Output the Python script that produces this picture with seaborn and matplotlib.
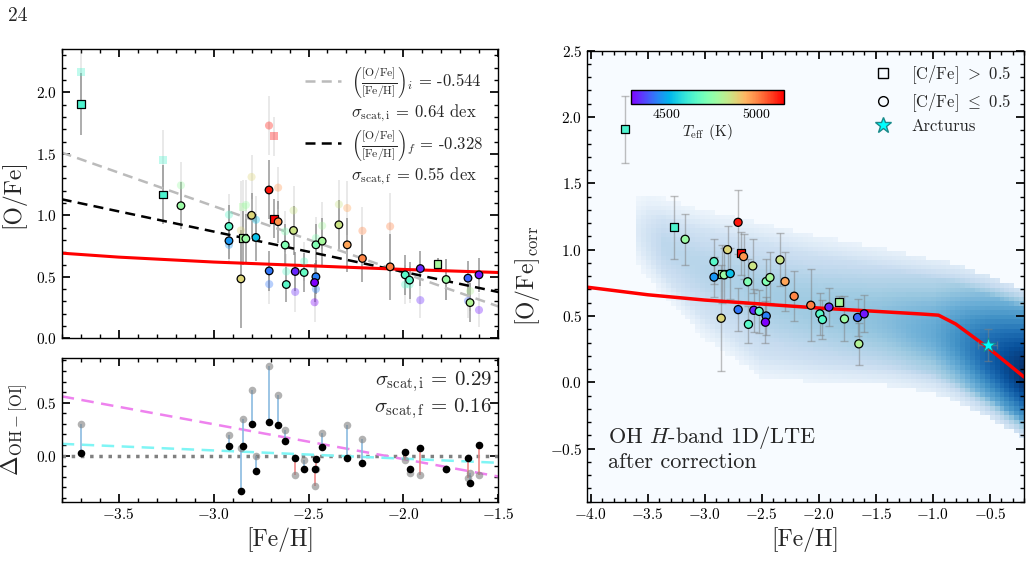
import numpy as np
import pandas as pd
import seaborn as sns
import matplotlib.pyplot as plt
from matplotlib.lines import Line2D
from matplotlib.ticker import MultipleLocator
from matplotlib.colors import Normalize
from matplotlib.cm import ScalarMappable

# --- stars: [Fe/H], [O/Fe] before (i) and after (f) correction, error, Teff, carbon flag
feh = [-3.70, -3.268, -3.172, -2.919, -2.919, -2.845, -2.830, -2.856, -2.800, -2.777,
       -2.708, -2.682, -2.660, -2.707, -2.623, -2.617, -2.579, -2.570, -2.523, -2.461,
       -2.428, -2.461, -2.468, -2.340, -2.296, -2.216, -2.070, -1.991, -1.968, -1.911,
       -1.820, -1.775, -1.660, -1.649, -1.602]
ofe_i = [2.168, 1.451, 1.244, 1.005, 0.760, 1.065, 1.084, 0.877, 1.312, 0.964,
         1.730, 1.643, 1.225, 0.440, 0.869, 0.543, 1.040, 0.377, 0.625, 0.815,
         0.915, 0.400, 0.293, 1.089, 1.059, 0.874, 0.910, 0.437, 0.437, 0.310,
         0.603, 0.478, 0.304, 0.385, 0.230]
ofe_f = [1.907, 1.168, 1.078, 0.910, 0.793, 0.815, 0.810, 0.483, 1.000, 0.820,
         1.206, 0.972, 0.948, 0.548, 0.758, 0.437, 0.877, 0.543, 0.535, 0.760,
         0.790, 0.500, 0.453, 0.923, 0.760, 0.649, 0.581, 0.516, 0.473, 0.567,
         0.603, 0.478, 0.489, 0.290, 0.516]
ofe_err = [0.25, 0.24, 0.19, 0.17, 0.15, 0.22, 0.20, 0.40, 0.18, 0.19,
           0.24, 0.16, 0.17, 0.16, 0.17, 0.14, 0.20, 0.16, 0.16, 0.17,
           0.19, 0.14, 0.16, 0.20, 0.22, 0.19, 0.27, 0.16, 0.15, 0.145,
           0.05, 0.17, 0.14, 0.16, 0.14]
teff = [4640, 4640, 4770, 4660, 4470, 4790, 4770, 4880, 4880, 4530,
        5125, 5150, 4980, 4430, 4725, 4660, 4850, 4340, 4680, 4725,
        4790, 4445, 4300, 4850, 4960, 5000, 5005, 4660, 4660, 4340,
        4790, 4770, 4410, 4810, 4325]
cfe_high = [1, 1, 0, 0, 0, 1, 0, 0, 0, 0,
            0, 1, 0, 0, 0, 0, 0, 0, 0, 0,
            0, 0, 0, 0, 0, 0, 0, 0, 0, 0,
            1, 0, 0, 0, 0]

# --- OH - [OI] differences
fe_oi = [-3.70, -2.919, -2.856, -2.845, -2.800, -2.777, -2.708, -2.660, -2.623, -2.570,
         -2.523, -2.468, -2.461, -2.428, -2.296, -2.216, -1.991, -1.968, -1.911, -1.775,
         -1.660, -1.649, -1.602]
delta_i = [0.295, 0.19, 0.07, 0.35, 0.62, 0.0, 0.85, 0.57, 0.245, -0.189,
           -0.044, -0.29, -0.13, 0.213, 0.289, 0.16, -0.044, -0.164, -0.189, -0.129,
           -0.217, -0.164, -0.189]
delta_f = [0.028, 0.088, -0.334, 0.09, 0.30, -0.145, 0.317, 0.289, 0.138, -0.019,
           -0.132, -0.126, -0.032, 0.081, -0.019, -0.075, 0.034, -0.129, 0.075, -0.129,
           -0.028, -0.258, 0.097]

# --- fits
slope_i, icpt_i = -0.544, -0.557
slope_f, icpt_f = -0.328, -0.116
slope_di, icpt_di = -0.33, -0.694
slope_df, icpt_df = -0.078, -0.186

# --- chemical evolution model
fe_model = [-4.03, -3.5, -3.0, -2.5, -2.0, -1.5, -1.1, -0.95, -0.8, -0.5, -0.2]
ofe_model = [0.717, 0.66, 0.62, 0.59, 0.56, 0.535, 0.515, 0.506, 0.44, 0.25, 0.04]

# --- model density band (envelope)
fe_band = [-3.62, -3.5, -3.0, -2.5, -2.0, -1.5, -1.32, -1.0, -0.8, -0.5, -0.2]
band_top = [1.38, 1.42, 1.30, 1.20, 1.10, 1.02, 0.99, 0.93, 0.89, 0.80, 0.70]
band_bot = [0.92, 0.78, 0.33, 0.04, 0.00, -0.02, -0.03, -0.08, -0.14, -0.27, -0.42]
band_mid = [1.15, 1.10, 0.85, 0.66, 0.55, 0.48, 0.45, 0.38, 0.32, 0.18, 0.06]
band_peak = [0.25, 0.27, 0.30, 0.35, 0.38, 0.42, 0.45, 0.52, 0.62, 0.82, 1.0]

arcturus = (-0.52, 0.28, 0.08, 0.12)

stars = pd.DataFrame({"feh": feh, "ofe_i": ofe_i, "ofe_f": ofe_f, "err": ofe_err,
                      "teff": teff, "cfe": cfe_high})
norm = Normalize(4300, 5150)
mk = {0: "o", 1: "s"}

sns.set_theme(style="ticks")
plt.rcParams.update({
    "font.family": "serif",
    "font.serif": ["cmr10", "DejaVu Serif"],
    "mathtext.fontset": "cm",
    "axes.formatter.use_mathtext": True,
    "axes.edgecolor": "black",
    "axes.linewidth": 1.0,
    "xtick.direction": "in", "ytick.direction": "in",
    "xtick.top": True, "ytick.right": True,
    "xtick.minor.visible": True, "ytick.minor.visible": True,
    "xtick.major.size": 6, "ytick.major.size": 6,
    "xtick.minor.size": 3, "ytick.minor.size": 3,
    "xtick.labelsize": 11, "ytick.labelsize": 11,
    "xtick.color": "black", "ytick.color": "black",
})

fig = plt.figure(figsize=(10.32, 5.72), dpi=100)
ax1 = fig.add_axes([0.0598, 0.4086, 0.4231, 0.5052])
ax2 = fig.add_axes([0.0598, 0.1224, 0.4231, 0.2512])
ax3 = fig.add_axes([0.5691, 0.1229, 0.4232, 0.7885])

# ---------------- top-left: [O/Fe] before/after
xx = np.array([-3.8, -1.5])
ax1.plot(xx, icpt_i + slope_i * xx, ls="--", color="#bbbbbb", lw=1.8, dashes=(4, 2.5), zorder=2)
ax1.plot(xx, icpt_f + slope_f * xx, ls="--", color="black", lw=1.8, dashes=(4, 2.5), zorder=2)
ax1.plot(fe_model, ofe_model, color="red", lw=2.2, zorder=2)
ax1.errorbar(stars.feh, stars.ofe_i, yerr=stars.err, fmt="none", ecolor="grey",
             alpha=0.2, elinewidth=1.2, zorder=1)
ax1.errorbar(stars.feh, stars.ofe_f, yerr=stars.err, fmt="none", ecolor="grey",
             alpha=0.75, elinewidth=1.2, zorder=1)
sns.scatterplot(data=stars, x="feh", y="ofe_i", hue="teff", palette="rainbow", hue_norm=norm,
                style="cfe", markers=mk, s=34, alpha=0.35, linewidth=0, legend=False,
                ax=ax1, zorder=3)
sns.scatterplot(data=stars, x="feh", y="ofe_f", hue="teff", palette="rainbow", hue_norm=norm,
                style="cfe", markers=mk, s=30, edgecolor="black", linewidth=0.9, legend=False,
                ax=ax1, zorder=4)
ax1.set_xlim(-3.8, -1.5)
ax1.set_ylim(0, 2.35)
ax1.set_xlabel("")
ax1.set_ylabel("[O/Fe]", fontsize=17, labelpad=8)
ax1.tick_params(labelbottom=False)
ax1.xaxis.set_major_locator(MultipleLocator(0.5))
ax1.xaxis.set_minor_locator(MultipleLocator(0.1))
ax1.yaxis.set_major_locator(MultipleLocator(0.5))
ax1.yaxis.set_minor_locator(MultipleLocator(0.1))

frac = r"\left(\frac{[\mathrm{O/Fe}]}{[\mathrm{Fe/H}]}\right)"
leg_h = [Line2D([], [], color="#bbbbbb", ls="--", lw=1.8, dashes=(4, 2.5)),
         Line2D([], [], color="none"),
         Line2D([], [], color="black", ls="--", lw=1.8, dashes=(4, 2.5)),
         Line2D([], [], color="none")]
leg_l = [r"$" + frac + r"_i$ = -0.544", r"$\sigma_{\rm scat,i}$ = 0.64 dex",
         r"$" + frac + r"_f$ = -0.328", r"$\sigma_{\rm scat,f}$ = 0.55 dex"]
ax1.legend(leg_h, leg_l, loc="upper right", frameon=False, fontsize=12,
           handlelength=2.2, handletextpad=0.6, labelspacing=0.15, borderaxespad=0.5)

# ---------------- bottom-left: OH - [OI]
xb = np.array([-3.8, -1.5])
ax2.axhline(0, color="grey", ls=":", lw=2.5, zorder=1)
ax2.plot(xb, icpt_di + slope_di * xb, ls="--", color="violet", lw=1.8, dashes=(5, 3), zorder=2)
ax2.plot(xb, icpt_df + slope_df * xb, ls="--", color="#7ff5f5", lw=1.8, dashes=(5, 3), zorder=2)
seg_col = ["#8bbbe0" if a > b else "#f08a8a" for a, b in zip(delta_i, delta_f)]
ax2.vlines(fe_oi, delta_i, delta_f, colors=seg_col, lw=1.2, zorder=2)
sns.scatterplot(x=fe_oi, y=delta_i, color="grey", alpha=0.6, s=30, linewidth=0, ax=ax2, zorder=3)
sns.scatterplot(x=fe_oi, y=delta_f, color="black", s=30, linewidth=0, ax=ax2, zorder=4)
ax2.set_xlim(-3.8, -1.5)
ax2.set_ylim(-0.44, 0.92)
ax2.set_xlabel("[Fe/H]", fontsize=17)
ax2.set_ylabel(r"$\Delta_{\rm OH-[OI]}$", fontsize=17, labelpad=4)
ax2.xaxis.set_major_locator(MultipleLocator(0.5))
ax2.xaxis.set_minor_locator(MultipleLocator(0.1))
ax2.yaxis.set_major_locator(MultipleLocator(0.5))
ax2.yaxis.set_minor_locator(MultipleLocator(0.1))
ax2.text(0.985, 0.84, r"$\sigma_{\rm scat,i}$ = 0.29", transform=ax2.transAxes,
         ha="right", va="center", fontsize=15)
ax2.text(0.985, 0.65, r"$\sigma_{\rm scat,f}$ = 0.16", transform=ax2.transAxes,
         ha="right", va="center", fontsize=15)

# ---------------- right: corrected [O/Fe] over model density
xe = np.linspace(-4.03, -0.2, 90)
ye = np.linspace(-0.9, 2.5, 100)
X, Y = np.meshgrid(0.5 * (xe[1:] + xe[:-1]), 0.5 * (ye[1:] + ye[:-1]))
top = np.interp(X, fe_band, band_top)
bot = np.interp(X, fe_band, band_bot)
mid = np.interp(X, fe_band, band_mid)
peak = np.interp(X, fe_band, band_peak)
inside = (X >= fe_band[0]) & (Y <= top) & (Y >= bot)
sig = np.where(Y > mid, top - mid, mid - bot) / 1.7
edge = np.clip(np.minimum(top - Y, Y - bot) / 0.15, 0, 1) * np.clip((X - fe_band[0]) / 0.25, 0, 1)
dens = np.where(inside, peak * (0.2 + 0.8 * np.exp(-0.5 * ((Y - mid) / sig) ** 2))
                * (0.45 + 0.55 * edge), 0.0)
ax3.pcolormesh(xe, ye, dens, cmap="Blues", vmin=0, vmax=1, shading="flat", zorder=0)

ax3.plot(fe_model, ofe_model, color="red", lw=2.5, zorder=2)
ax3.errorbar(stars.feh, stars.ofe_f, yerr=stars.err, fmt="none", ecolor="grey",
             alpha=0.5, elinewidth=1.0, capsize=3, zorder=1)
sns.scatterplot(data=stars, x="feh", y="ofe_f", hue="teff", palette="rainbow", hue_norm=norm,
                style="cfe", markers=mk, s=34, edgecolor="black", linewidth=0.9, legend=False,
                ax=ax3, zorder=4)
ax3.errorbar([arcturus[0]], [arcturus[1]], xerr=arcturus[2], yerr=arcturus[3], fmt="none",
             ecolor="grey", alpha=0.5, elinewidth=1.0, capsize=3, zorder=3)
ax3.scatter([arcturus[0]], [arcturus[1]], marker="*", s=120, color="cyan",
            edgecolor="#1a8a8a", linewidth=0.6, zorder=5)
ax3.set_xlim(-4.03, -0.2)
ax3.set_ylim(-0.9, 2.5)
ax3.set_xlabel("[Fe/H]", fontsize=17)
ax3.set_ylabel(r"[O/Fe]$_{\rm corr}$", fontsize=17, labelpad=6)
ax3.xaxis.set_major_locator(MultipleLocator(0.5))
ax3.xaxis.set_minor_locator(MultipleLocator(0.1))
ax3.yaxis.set_major_locator(MultipleLocator(0.5))
ax3.yaxis.set_minor_locator(MultipleLocator(0.1))
ax3.text(0.047, 0.065, "OH $H$-band 1D/LTE\nafter correction", transform=ax3.transAxes,
         ha="left", va="bottom", fontsize=16, linespacing=1.15)

leg2_h = [Line2D([], [], marker="s", ls="none", mfc="none", mec="black", ms=7),
          Line2D([], [], marker="o", ls="none", mfc="none", mec="black", ms=7),
          Line2D([], [], marker="*", ls="none", mfc="cyan", mec="#1a8a8a", ms=12)]
ax3.legend(leg2_h, [r"[C/Fe] $>$ 0.5", r"[C/Fe] $\leq$ 0.5", "Arcturus"],
           loc="upper right", frameon=False, fontsize=12, handletextpad=0.9,
           labelspacing=0.3, borderaxespad=0.35, handlelength=1.6)

cax = ax3.inset_axes([0.10, 0.882, 0.35, 0.03])
cb = fig.colorbar(ScalarMappable(norm=norm, cmap="rainbow"), cax=cax, orientation="horizontal")
cb.set_ticks([4500, 5000])
cax.minorticks_off()
cax.tick_params(labelsize=10, direction="in", length=3, top=False, pad=2)
cb.set_label(r"$T_{\rm eff}$ (K)", fontsize=11, labelpad=1)

fig.text(0.008, 0.972, "24", fontsize=14, va="center")

fig.savefig("out.png", dpi=100)
